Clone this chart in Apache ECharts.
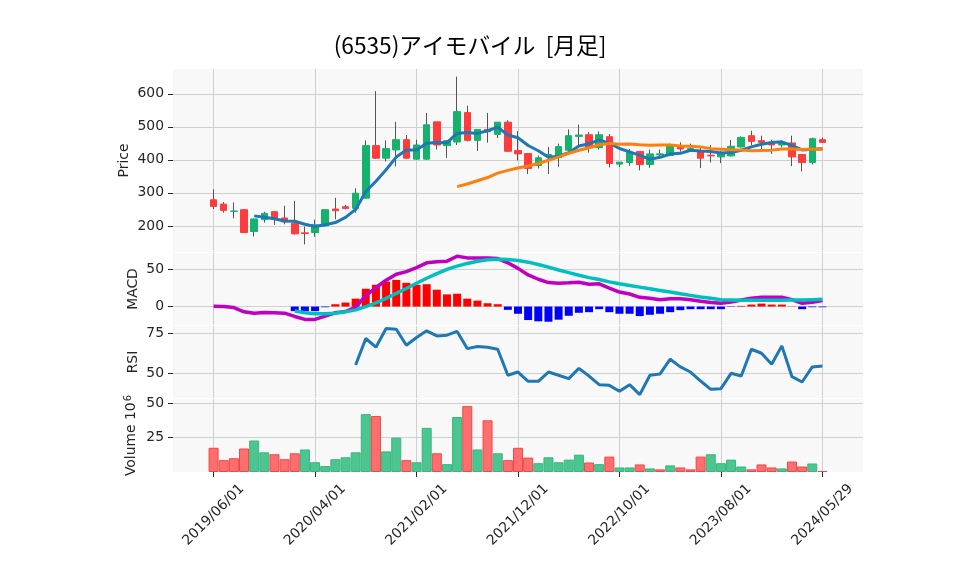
<!DOCTYPE html>
<html><head><meta charset="utf-8">
<script src="https://cdn.jsdelivr.net/npm/echarts@6/dist/echarts.min.js"></script>
<style>html,body{margin:0;padding:0;background:#fff}#c{width:958px;height:575px}</style>
</head><body><div id="c"></div>
<script>
const dates = ['2019/06/01','2019/07/01','2019/08/01','2019/09/01','2019/10/01','2019/11/01','2019/12/01','2020/01/01','2020/02/01','2020/03/01',
'2020/04/01','2020/05/01','2020/06/01','2020/07/01','2020/08/01','2020/09/01','2020/10/01','2020/11/01','2020/12/01','2021/01/01',
'2021/02/01','2021/03/01','2021/04/01','2021/05/01','2021/06/01','2021/07/01','2021/08/01','2021/09/01','2021/10/01','2021/11/01',
'2021/12/01','2022/01/01','2022/02/01','2022/03/01','2022/04/01','2022/05/01','2022/06/01','2022/07/01','2022/08/01','2022/09/01',
'2022/10/01','2022/11/01','2022/12/01','2023/01/01','2023/02/01','2023/03/01','2023/04/01','2023/05/01','2023/06/01','2023/07/01',
'2023/08/01','2023/09/01','2023/10/01','2023/11/01','2023/12/01','2024/01/01','2024/02/01','2024/03/01','2024/04/01','2024/05/01','2024/05/29'];
const open  = [279,266,244,249,183,219,243,224,208,179,180,200,251,258,253,284,443,405,430,461,402,402,515,443,454,543,459,492,477,514,428,419,383,412,407,429,471,476,437,470,387,392,425,386,415,413,443,431,424,414,409,412,439,473,458,451,445,451,416,392,461];
const close = [259,247,245,180,221,238,223,212,176,177,203,249,246,253,299,443,405,434,461,405,445,506,445,458,546,459,492,485,514,426,418,374,406,416,440,473,475,439,476,389,393,423,386,418,418,443,433,434,405,412,419,441,468,456,453,445,451,409,392,464,453];
const high  = [311,272,271,251,222,243,245,261,276,198,219,251,285,264,314,459,608,459,515,475,461,542,515,460,652,564,492,542,514,520,487,420,413,439,449,492,507,484,486,478,394,433,426,431,431,449,453,449,439,445,426,460,471,488,473,461,458,473,416,467,467];
const low   = [251,240,223,178,168,210,203,205,174,144,167,198,220,250,240,283,403,395,380,402,400,400,431,406,445,456,427,452,466,424,398,357,374,357,379,427,445,422,431,377,378,382,368,376,403,411,425,426,375,392,390,410,437,445,431,418,438,381,365,386,452];
const ma5 = [null,null,null,null,230.4,226.2,221.4,214.8,214,205.2,198.2,203.4,210.2,225.6,250,304,335,370,408.4,429.6,430,450.2,452.4,451.8,480,482.8,480,488,499.2,475.2,467,443.4,427.6,408,410.8,421.8,442,448.6,460.6,450.4,434.4,424,413.4,401.8,407.6,417.6,419.6,429.2,426.6,425.4,420.6,422.2,429,439.2,447.4,452.6,454.6,442.8,430,432.2,433.8];
const ma25 = [null,null,null,null,null,null,null,null,null,null,null,null,null,null,null,null,null,null,null,null,null,null,null,null,
319,327,336.8,346.4,359.8,368,375.2,381.2,389,398.6,409.1,419.9,429,436.7,445.6,449.2,447.2,447.9,446,444.3,444.8,444.7,441.8,441.4,439.2,433.9,432.3,430.2,429.6,427.2,428.3,429.4,432.5,432.6,431.6,432.6,431.8];
const macd = [0.4,0,-1.3,-7,-8.8,-7.9,-8.3,-8.8,-13.2,-17.1,-17.1,-12.7,-8.3,-6.6,-0.9,14.5,25.4,35.1,43,46.5,51.8,58.3,59.6,60.5,67.1,64.9,64.9,64.9,64,58.3,50.9,42.1,36.4,32,31.1,31.6,32.5,29.8,30.3,24.6,19.3,16.7,12.3,11,9.2,10.5,10.5,9.2,7,5.3,4.4,6.1,8.8,11,12.3,12.3,12.3,9.2,4.4,5.7,7.9];
const signal = [null,null,null,null,null,null,null,null,-6,-8.3,-9.6,-9.6,-8.8,-7,-4.4,0,4.8,11,17.5,24.1,31.1,37.7,43.9,49.6,53.9,57.5,60.5,62.3,63.2,62.7,61.4,59.2,56.1,52.6,48.7,45.2,41.7,38.6,36,32.9,30.3,28.1,25.9,23.7,21.5,19.3,17.1,14.9,12.7,11,9.2,8.8,8.3,8.3,8.3,8.3,8.3,8.8,8.8,9.2,9.6];
const hist = [null,null,null,null,null,null,null,null,-6.1,-6.1,-6.1,-0.9,3.1,5.3,10.5,23.7,29,33.3,35.5,31.6,29,29.8,22.4,16.2,17.1,10.5,7.9,4.4,3.1,-4.4,-9.6,-18,-19.7,-20.2,-17.5,-12.3,-8.3,-7.5,-3.5,-7.5,-9.6,-9.6,-12.7,-11,-9.6,-7.5,-4.8,-3.5,-3.5,-3.5,-3.5,-0.5,0.9,2.6,3.9,2.6,2.6,0.3,-3.5,-0.9,-0.9];
const rsi = [null,null,null,null,null,null,null,null,null,null,null,null,null,null,55.4,71.9,66.5,78.1,77.7,67.7,72.5,76.7,73.5,74,76.3,65.6,66.9,66.5,65.2,49,51,45.2,45.2,51,49,46.9,53.3,48.5,43.1,42.7,39,43.1,36.9,49,49.8,59,54.2,51,45.4,40.2,40.6,50.2,48.5,65.2,62.7,55.8,67.3,48.1,44.8,54.2,54.8];
const volume = [17.6,8.6,10,17.1,22.9,14.3,12.9,9.3,13.6,16.4,7.1,4.3,9.3,10.7,14.3,42.1,40.7,15,25,8.6,7.1,32.1,13.6,5.7,40,47.9,16.4,37.6,13.6,8.6,17.6,10.5,6.4,10.7,7.1,9,12.6,6.9,5.7,11.2,3.3,3.3,5.5,2.6,1.9,4.8,3.3,1.9,11.2,12.9,6.4,9,4,1.9,5.5,3.3,2.6,7.6,4,6.2,0.7];
const volDir = ['d','d','d','d','u','u','d','d','d','u','u','u','u','u','u','u','d','u','u','d','u','u','d','u','u','d','u','d','u','d','d','d','u','u','u','u','u','d','u','d','u','u','d','u','d','u','d','d','d','u','u','u','u','d','d','d','u','d','d','u','d'];
const priceTicks = [200,300,400,500,600];
const macdTicks = [0,50];
const rsiTicks = [50,75];
const volTicks = [25,50];
const title = '(6535)アイモバイル  [月足]';

const PAD = 4;
const fix = a => a.map(v => v == null ? '-' : v);
const padArr = a => [].concat(new Array(PAD).fill('-'), fix(a), new Array(PAD).fill('-'));
const cats = [];
for (let i = 0; i < PAD; i++) cats.push('p' + i);
dates.forEach(d => cats.push(d));
for (let i = 0; i < PAD; i++) cats.push('q' + i);
const showIdx = (i) => i >= PAD && (i - PAD) % 10 === 0 && (i - PAD) <= dates.length - 1;

const RED = '#ff3b3b', GREEN = '#14b26c';
const wick = padArr(dates.map((d, i) => [open[i], close[i], low[i], high[i]]));
const body = padArr(dates.map((d, i) => [open[i], close[i], Math.min(open[i], close[i]), Math.max(open[i], close[i])]));
const volData = padArr(volume.map((v, i) => ({value: v, itemStyle: volDir[i] === 'u'
  ? {color: '#4cc690', borderColor: '#3bb57f', borderWidth: 1}
  : {color: '#ff6e6e', borderColor: '#f04848', borderWidth: 1}})));
const histData = padArr(hist.map(v => v == null ? '-' : {value: v, itemStyle: {color: v >= 0 ? '#ff0000' : '#0000ff'}}));

const FONT = 'DejaVu Sans';
const TXT = '#262626';
const gridDefs = [
  {top: 69, height: 183}, {top: 253, height: 72}, {top: 326, height: 72}, {top: 399, height: 73}
];
const grids = gridDefs.map(g => ({left: 173, width: 690, top: g.top, height: g.height, show: true, backgroundColor: '#f8f8f8', borderWidth: 0}));
const xAxes = gridDefs.map((g, k) => ({
  gridIndex: k, type: 'category', data: cats, boundaryGap: false,
  axisLine: {show: false},
  axisTick: {show: k === 3, interval: (i) => showIdx(i), length: 5, lineStyle: {color: TXT}},
  axisLabel: {show: k === 3, interval: (i) => showIdx(i), rotate: 45, align: 'center', verticalAlign: 'middle', margin: 43,
    fontFamily: FONT, fontSize: 13.9, color: TXT},
  splitLine: {show: true, interval: (i) => showIdx(i), lineStyle: {color: '#d0d0d0', width: 1}}
}));
function yAx(k, min, max, ticks, name, gap) {
  return {
    gridIndex: k, type: 'value', min: min, max: max,
    axisLine: {show: false},
    axisTick: {show: true, length: 5, customValues: ticks, lineStyle: {color: TXT}},
    axisLabel: {customValues: ticks, fontFamily: FONT, fontSize: 13.9, color: TXT, margin: 9},
    splitLine: {show: true, lineStyle: {color: '#d0d0d0', width: 1}},
    name: name, nameLocation: 'middle', nameGap: gap, nameMoveOverlap: false,
    nameTextStyle: {fontFamily: FONT, fontSize: 13.9, color: TXT,
      rich: {a: {fontFamily: FONT, fontSize: 13.9, color: TXT}, s: {fontFamily: FONT, fontSize: 10, color: TXT, verticalAlign: 'bottom', padding: [0, 0, 7, 1]}}}
  };
}
const yAxes = [
  yAx(0, 121, 675, priceTicks, 'Price', 42),
  yAx(1, -24.6, 71.4, macdTicks, 'MACD', 33),
  yAx(2, 34.8, 79.7, rsiTicks, 'RSI', 33),
  yAx(3, 0, 53.1, volTicks, '{a|Volume 10}{s|6}', 33)
];

const chart = echarts.init(document.getElementById('c'), null, {renderer: 'canvas'});
chart.setOption({
  animation: false,
  backgroundColor: '#ffffff',
  title: {text: title, left: 465, top: 29, textAlign: 'center',
    textStyle: {fontFamily: 'Noto Sans CJK JP', fontSize: 22.7, fontWeight: 'normal', color: '#000'}},
  grid: grids, xAxis: xAxes, yAxis: yAxes,
  series: [
    {type: 'candlestick', xAxisIndex: 0, yAxisIndex: 0, data: wick, barWidth: 1,
      itemStyle: {color: '#555', color0: '#555', borderColor: '#555', borderColor0: '#555', borderWidth: 1}},
    {type: 'candlestick', xAxisIndex: 0, yAxisIndex: 0, data: body, barWidth: 7,
      itemStyle: {color: GREEN, color0: RED, borderColor: GREEN, borderColor0: RED, borderWidth: 1}},
    {type: 'line', xAxisIndex: 0, yAxisIndex: 0, data: padArr(ma5), showSymbol: false, lineStyle: {color: '#1f77b4', width: 3}, z: 5},
    {type: 'line', xAxisIndex: 0, yAxisIndex: 0, data: padArr(ma25), showSymbol: false, lineStyle: {color: '#ff7f0e', width: 3}, z: 5},
    {type: 'bar', xAxisIndex: 1, yAxisIndex: 1, data: histData, barWidth: 8},
    {type: 'line', xAxisIndex: 1, yAxisIndex: 1, data: padArr(macd), showSymbol: false, lineStyle: {color: '#bf00bf', width: 3.5}, z: 5},
    {type: 'line', xAxisIndex: 1, yAxisIndex: 1, data: padArr(signal), showSymbol: false, lineStyle: {color: '#00bfbf', width: 3.5}, z: 6},
    {type: 'line', xAxisIndex: 2, yAxisIndex: 2, data: padArr(rsi), showSymbol: false, lineStyle: {color: '#1f77b4', width: 3}, z: 5},
    {type: 'bar', xAxisIndex: 3, yAxisIndex: 3, data: volData, barWidth: 10}
  ]
});
</script></body></html>
